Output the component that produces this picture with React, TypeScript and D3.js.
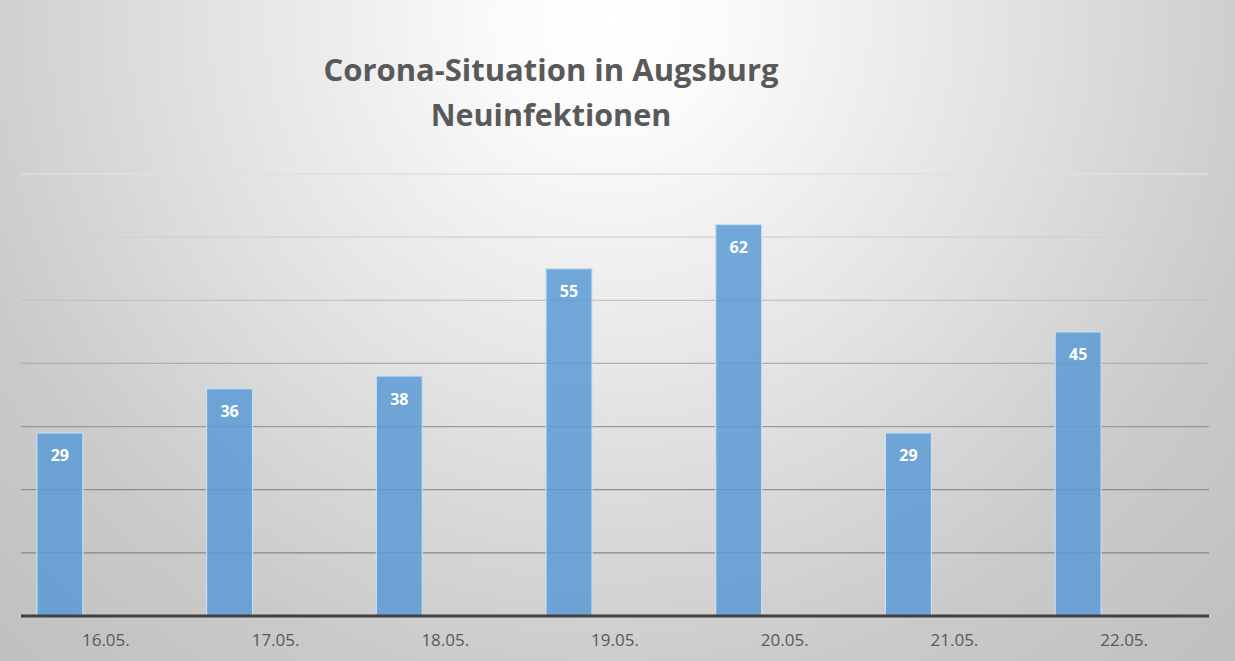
import React from "react";
import * as d3 from "d3";

const categories = ["16.05.", "17.05.", "18.05.", "19.05.", "20.05.", "21.05.", "22.05."];
const neuinfektionen = [29, 36, 38, 55, 62, 29, 45];
const seriesSlots = ["Neuinfektionen", "s2", "s3"];
const yTicks = [0, 10, 20, 30, 40, 50, 60, 70];
const titleLines = ["Corona-Situation in Augsburg", "Neuinfektionen"];

const W = 1235;
const H = 661;
const plot = { left: 21, right: 1209, top: 174, bottom: 616 };

export default function App() {
  const x0 = d3.scaleBand<string>().domain(categories).range([plot.left, plot.right]).paddingInner(0).paddingOuter(0);
  const x1 = d3
    .scaleBand<string>()
    .domain(seriesSlots)
    .range([0, x0.bandwidth()])
    .paddingInner(0)
    .paddingOuter(0.345);
  const y = d3.scaleLinear().domain([0, 70]).range([plot.bottom, plot.top]);
  const font = "'Open Sans', 'DejaVu Sans', sans-serif";

  return (
    <svg
      width={W}
      height={H}
      viewBox={`0 0 ${W} ${H}`}
      style={{ position: "absolute", left: 0, top: 0, display: "block" }}
    >
      <defs>
        <radialGradient id="bg" gradientUnits="userSpaceOnUse" cx={610} cy={20} r={900} fx={610} fy={20}>
          <stop offset="0" stopColor="#ffffff" />
          <stop offset="0.12" stopColor="#fbfbfb" />
          <stop offset="0.45" stopColor="#e2e2e2" />
          <stop offset="0.75" stopColor="#cacaca" />
          <stop offset="1" stopColor="#bfbfbf" />
        </radialGradient>
        <linearGradient id="grid" gradientUnits="userSpaceOnUse" x1={0} y1={plot.top} x2={0} y2={plot.bottom}>
          <stop offset="0" stopColor="#e0e0e0" />
          <stop offset="0.3" stopColor="#c0c0c0" />
          <stop offset="0.6" stopColor="#969696" />
          <stop offset="1" stopColor="#7c7c7c" />
        </linearGradient>
      </defs>
      <rect x={0} y={0} width={W} height={H} fill="url(#bg)" />

      {titleLines.map((t, i) => (
        <text
          key={t}
          x={551}
          y={81 + i * 45}
          textAnchor="middle"
          fontFamily={font}
          fontWeight={700}
          fontSize={i === 0 ? 31 : 30.5}
          fill="#595959"
        >
          {t}
        </text>
      ))}

      {yTicks
        .filter((v) => v > 0)
        .map((v) => (
          <line
            key={v}
            x1={plot.left}
            x2={plot.right}
            y1={y(v)}
            y2={y(v)}
            stroke="url(#grid)"
            strokeWidth={1.3}
          />
        ))}

      {neuinfektionen.map((v, i) => {
        const bx = (x0(categories[i]) ?? 0) + (x1(seriesSlots[0]) ?? 0);
        const bw = x1.bandwidth();
        return (
          <g key={categories[i]}>
            <rect
              x={bx}
              y={y(v)}
              width={bw}
              height={y(0) - y(v)}
              fill="#5b9bd5"
              fillOpacity={0.85}
              stroke="#c9def2"
              strokeWidth={1.2}
            />
            <text
              x={bx + bw / 2}
              y={y(v) + 23}
              dy="0.35em"
              textAnchor="middle"
              fontFamily={font}
              fontWeight={700}
              fontSize={16}
              fill="#ffffff"
            >
              {v}
            </text>
          </g>
        );
      })}

      <line x1={plot.left} x2={plot.right} y1={y(0)} y2={y(0)} stroke="#404040" strokeWidth={3} />

      {categories.map((c) => (
        <text
          key={c}
          x={(x0(c) ?? 0) + x0.bandwidth() / 2}
          y={646}
          textAnchor="middle"
          fontFamily={font}
          fontSize={17}
          fill="#595959"
        >
          {c}
        </text>
      ))}
    </svg>
  );
}
